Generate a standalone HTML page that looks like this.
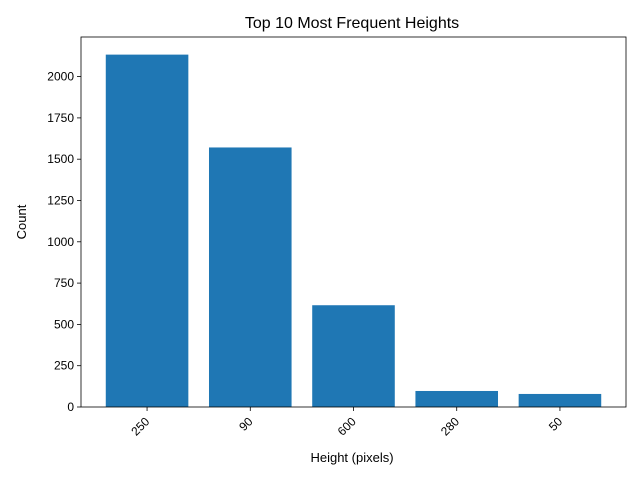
<!DOCTYPE html>
<html><head><meta charset="utf-8"><style>
body{margin:0;background:#fff;font-family:"Liberation Sans","DejaVu Sans",sans-serif;}
</style></head><body>
<svg id="chart" width="640" height="480" xmlns="http://www.w3.org/2000/svg">
<rect width="640" height="480" fill="#fff"/>
<text x="352" y="28" text-anchor="middle" font-size="16" fill="#000">Top 10 Most Frequent Heights</text>
<g id="bars"></g>
<g id="axes"></g>
<text x="352" y="462" text-anchor="middle" font-size="13">Height (pixels)</text>
<text transform="translate(26,222) rotate(-90)" text-anchor="middle" font-size="13">Count</text>
</svg>
<script>
const categories = ["250","90","600","280","50"];
const counts = [2133,1571,616,97,79];
const yTicks = [0,250,500,750,1000,1250,1500,1750,2000];
const NS="http://www.w3.org/2000/svg";
const L=81,R=626,T=37,B=407;
const xmin=-0.64,xmax=categories.length-1+0.64;
const ymax=Math.max(...counts)*1.05;
const xs=i=>L+(i-xmin)/(xmax-xmin)*(R-L);
const ys=v=>B-v/ymax*(B-T);
const bw=0.8*(R-L)/(xmax-xmin);
const bars=document.getElementById('bars'),axes=document.getElementById('axes');
function mk(tag,attrs,parent){const e=document.createElementNS(NS,tag);for(const k in attrs)e.setAttribute(k,attrs[k]);parent.appendChild(e);return e;}
counts.forEach((v,i)=>{
  const r=mk('rect',{x:xs(i)-bw/2,y:ys(v),width:bw,height:B-ys(v),fill:'#1f77b4'},bars);
  
  
  mk('line',{x1:xs(i),x2:xs(i),y1:B,y2:B+4,stroke:'#000','stroke-width':0.8},axes);
  const lb=mk('text',{transform:`translate(${xs(i)-3},${B+9}) rotate(-45)`,'text-anchor':'end','dominant-baseline':'hanging','font-size':12},axes);
  lb.textContent=categories[i];
  
  
});
yTicks.forEach(v=>{
  mk('line',{x1:L-4,x2:L,y1:ys(v),y2:ys(v),stroke:'#000','stroke-width':0.8},axes);
  const lb=mk('text',{x:L-7,y:ys(v)+4,'text-anchor':'end','font-size':12},axes);
  lb.textContent=v;
  
  
});
const fr=mk('rect',{x:L,y:T,width:R-L,height:B-T,fill:'none',stroke:'#000','stroke-width':0.8},axes);


</script>
</body></html>
